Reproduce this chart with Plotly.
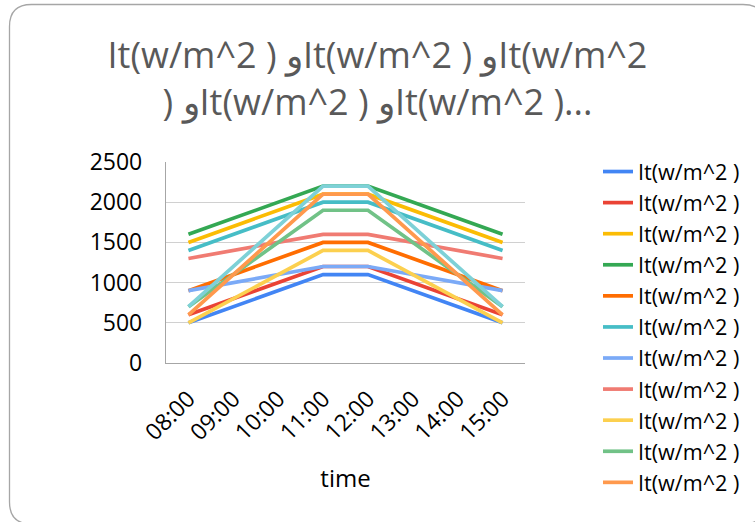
import plotly.graph_objects as go

times = ["08:00", "09:00", "10:00", "11:00", "12:00", "13:00", "14:00", "15:00"]
series_name = "It(w/m^2 )"
s1 = [500, None, None, 1100, 1100, None, None, 500]
s2 = [600, None, None, 1200, 1200, None, None, 600]
s3 = [1500, None, None, 2100, 2100, None, None, 1500]
s4 = [1600, None, None, 2200, 2200, None, None, 1600]
s5 = [900, None, None, 1500, 1500, None, None, 900]
s6 = [1400, None, None, 2000, 2000, None, None, 1400]
s7 = [900, None, None, 1200, 1200, None, None, 900]
s8 = [1300, None, None, 1600, 1600, None, None, 1300]
s9 = [500, None, None, 1400, 1400, None, None, 500]
s10 = [700, None, None, 1900, 1900, None, None, 700]
s11 = [600, None, None, 2100, 2100, None, None, 600]
s12 = [700, None, None, 2200, 2200, None, None, 700]
all_series = [s1, s2, s3, s4, s5, s6, s7, s8, s9, s10, s11, s12]
colors = ["#4285F4", "#EA4335", "#FBBC04", "#34A853", "#FF6D01", "#46BDC6",
          "#7BAAF7", "#F07B72", "#FCD04F", "#71C287", "#FF994D", "#7ED1D7"]
title_text = "It(w/m^2 ) وIt(w/m^2 ) وIt(w/m^2<br>) وIt(w/m^2 ) وIt(w/m^2 )..."

W, H = 755, 522
ML, MR, MT, MB = 166, 230, 162, 159
PW, PH = W - ML - MR, H - MT - MB
FONT = "Open Sans"

def px(x):
    return (x - ML) / PW

def py(y):
    return (H - MB - y) / PH

fig = go.Figure()
for i, (vals, col) in enumerate(zip(all_series, colors)):
    fig.add_trace(go.Scatter(
        x=times, y=vals, mode="lines", connectgaps=True,
        line=dict(color=col, width=3.7),
        name=series_name,
        showlegend=(i < 11), hoverinfo="skip",
    ))

# rounded chart border
x0, y0, x1, y1, r = 9.5, 4.5, 765, 524, 22
path = (f"M {px(x0+r)},{py(y0)} L {px(x1-r)},{py(y0)} Q {px(x1)},{py(y0)} {px(x1)},{py(y0+r)} "
        f"L {px(x1)},{py(y1-r)} Q {px(x1)},{py(y1)} {px(x1-r)},{py(y1)} "
        f"L {px(x0+r)},{py(y1)} Q {px(x0)},{py(y1)} {px(x0)},{py(y1-r)} "
        f"L {px(x0)},{py(y0+r)} Q {px(x0)},{py(y0)} {px(x0+r)},{py(y0)} Z")

fig.update_layout(
    width=W, height=H,
    margin=dict(l=ML, r=MR, t=MT, b=MB, autoexpand=False),
    paper_bgcolor="white", plot_bgcolor="white",
    font=dict(family=FONT, color="#000000", size=23),
    title=dict(text=title_text, x=0.5, xanchor="center", xref="container",
               y=1 - 68 / H, yanchor="top",
               font=dict(family=FONT, size=36, color="#595959")),
    xaxis=dict(type="category", categoryorder="array", categoryarray=times,
               range=[-0.5, 7.5], tickangle=-45, showgrid=False,
               showline=True, linecolor="#a6a6a6", linewidth=1.3,
               ticks="", tickfont=dict(size=23), ticklabelstandoff=12,
               title=dict(text="time", font=dict(size=24), standoff=24)),
    yaxis=dict(range=[0, 2500], dtick=500, showgrid=True, gridcolor="#d0d0d0",
               gridwidth=1.3, showline=True, linecolor="#a6a6a6", linewidth=1.3,
               zeroline=False, ticks="", tickfont=dict(size=23), ticklabelstandoff=18),
    legend=dict(x=px(598), xanchor="left", y=py(151), yanchor="top",
                font=dict(size=21.6), traceorder="normal", maxheight=600,
                itemwidth=30, bgcolor="rgba(0,0,0,0)"),
    shapes=[dict(type="path", xref="paper", yref="paper", path=path,
                 line=dict(color="#a6a6a6", width=1.3), layer="below")],
)

fig.write_html("out.html")
